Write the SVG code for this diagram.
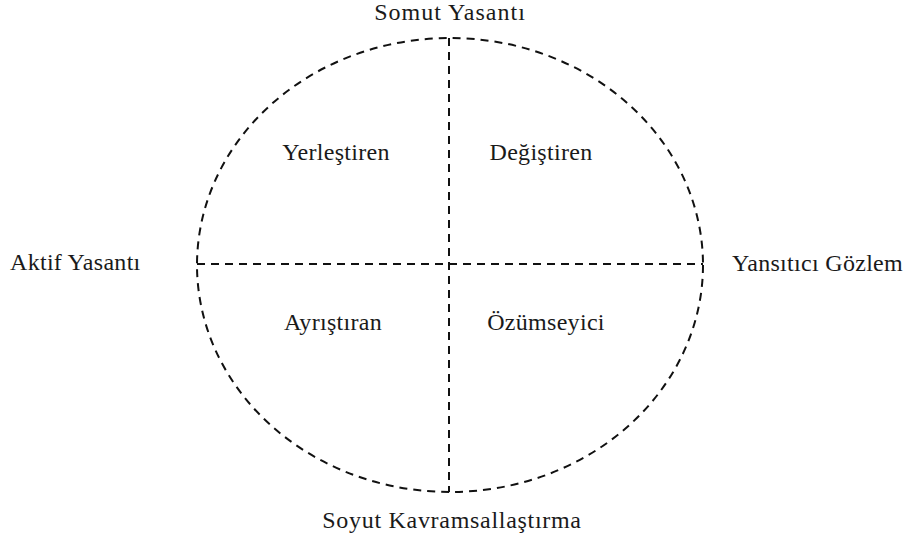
<svg xmlns="http://www.w3.org/2000/svg" width="912" height="537" viewBox="0 0 912 537">
<style>
.lbl{font-family:"Liberation Serif","Times New Roman",serif;font-size:24px;fill:#1a1a1a;letter-spacing:0.3px}
.d{fill:none;stroke:#111;stroke-width:2;stroke-dasharray:8,6}
</style>
<rect width="912" height="537" fill="#fff"/>
<g id="connectors">
<ellipse class="d" cx="450" cy="265" rx="253" ry="227"/>
<line class="d" x1="449" y1="38" x2="449" y2="492"/>
<line class="d" x1="197" y1="264" x2="703" y2="264"/>
</g>
<g id="somut"><text class="lbl" x="450" y="20" text-anchor="middle" style="letter-spacing:1px">Somut Yasantı</text></g>
<g id="soyut"><text class="lbl" x="452" y="528" text-anchor="middle" style="letter-spacing:0.7px">Soyut Kavramsallaştırma</text></g>
<g id="aktif"><text class="lbl" x="10" y="270">Aktif Yasantı</text></g>
<g id="yansitici"><text class="lbl" x="732" y="271">Yansıtıcı Gözlem</text></g>
<g id="yerlestiren"><text class="lbl" x="336" y="160" text-anchor="middle">Yerleştiren</text></g>
<g id="degistiren"><text class="lbl" x="541" y="160" text-anchor="middle">Değiştiren</text></g>
<g id="ayristiran"><text class="lbl" x="333" y="330" text-anchor="middle">Ayrıştıran</text></g>
<g id="ozumseyici"><text class="lbl" x="546" y="330" text-anchor="middle">Özümseyici</text></g>
</svg>
